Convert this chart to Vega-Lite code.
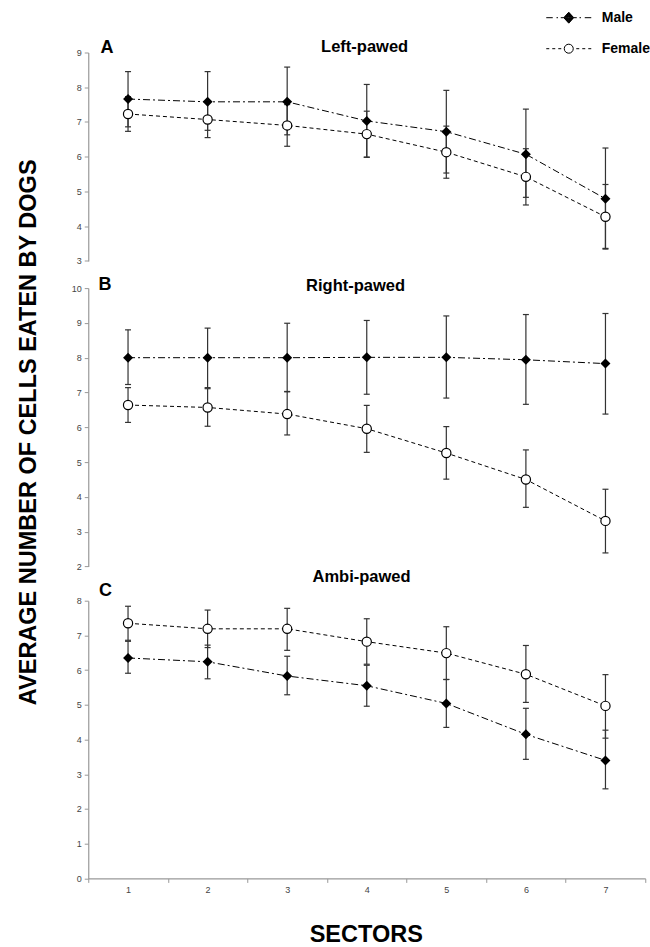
{
  "$schema": "https://vega.github.io/schema/vega-lite/v6.json",
  "padding": {"left": 16.25, "top": 4.5, "right": 0, "bottom": 10},
  "background": "white",
  "config": {
    "view": {"stroke": null},
    "font": "Liberation Sans",
    "axis": {
      "labelFont": "Liberation Sans", "labelFontSize": 9, "labelColor": "#444",
      "domainColor": "#999", "tickColor": "#999", "domainWidth": 1.2, "tickWidth": 1,
      "tickSize": 4, "labelPadding": 3, "grid": false,
      "titleFont": "Liberation Sans", "titleFontWeight": "bold", "titleColor": "black"
    }
  },
  "data": {"values": [
    {"panel": "A", "sex": "Male", "sector": 1, "mean": 7.66, "lo": 6.86, "hi": 8.45},
    {"panel": "A", "sex": "Male", "sector": 2, "mean": 7.58, "lo": 6.76, "hi": 8.45},
    {"panel": "A", "sex": "Male", "sector": 3, "mean": 7.58, "lo": 6.63, "hi": 8.58},
    {"panel": "A", "sex": "Male", "sector": 4, "mean": 7.03, "lo": 5.98, "hi": 8.08},
    {"panel": "A", "sex": "Male", "sector": 5, "mean": 6.72, "lo": 5.53, "hi": 7.91},
    {"panel": "A", "sex": "Male", "sector": 6, "mean": 6.07, "lo": 4.83, "hi": 7.37},
    {"panel": "A", "sex": "Male", "sector": 7, "mean": 4.79, "lo": 3.36, "hi": 6.25},
    {"panel": "A", "sex": "Female", "sector": 1, "mean": 7.23, "lo": 6.73, "hi": 7.73},
    {"panel": "A", "sex": "Female", "sector": 2, "mean": 7.07, "lo": 6.55, "hi": 7.59},
    {"panel": "A", "sex": "Female", "sector": 3, "mean": 6.90, "lo": 6.30, "hi": 7.50},
    {"panel": "A", "sex": "Female", "sector": 4, "mean": 6.65, "lo": 5.99, "hi": 7.31},
    {"panel": "A", "sex": "Female", "sector": 5, "mean": 6.13, "lo": 5.38, "hi": 6.88},
    {"panel": "A", "sex": "Female", "sector": 6, "mean": 5.42, "lo": 4.61, "hi": 6.23},
    {"panel": "A", "sex": "Female", "sector": 7, "mean": 4.27, "lo": 3.34, "hi": 5.20},
    {"panel": "B", "sex": "Male", "sector": 1, "mean": 8.00, "lo": 7.23, "hi": 8.80},
    {"panel": "B", "sex": "Male", "sector": 2, "mean": 8.00, "lo": 7.14, "hi": 8.85},
    {"panel": "B", "sex": "Male", "sector": 3, "mean": 8.00, "lo": 7.03, "hi": 8.99},
    {"panel": "B", "sex": "Male", "sector": 4, "mean": 8.01, "lo": 6.95, "hi": 9.07},
    {"panel": "B", "sex": "Male", "sector": 5, "mean": 8.01, "lo": 6.84, "hi": 9.20},
    {"panel": "B", "sex": "Male", "sector": 6, "mean": 7.94, "lo": 6.66, "hi": 9.24},
    {"panel": "B", "sex": "Male", "sector": 7, "mean": 7.83, "lo": 6.38, "hi": 9.27},
    {"panel": "B", "sex": "Female", "sector": 1, "mean": 6.64, "lo": 6.14, "hi": 7.14},
    {"panel": "B", "sex": "Female", "sector": 2, "mean": 6.57, "lo": 6.03, "hi": 7.11},
    {"panel": "B", "sex": "Female", "sector": 3, "mean": 6.38, "lo": 5.78, "hi": 7.02},
    {"panel": "B", "sex": "Female", "sector": 4, "mean": 5.96, "lo": 5.28, "hi": 6.63},
    {"panel": "B", "sex": "Female", "sector": 5, "mean": 5.26, "lo": 4.51, "hi": 6.02},
    {"panel": "B", "sex": "Female", "sector": 6, "mean": 4.50, "lo": 3.70, "hi": 5.35},
    {"panel": "B", "sex": "Female", "sector": 7, "mean": 3.31, "lo": 2.39, "hi": 4.22},
    {"panel": "C", "sex": "Male", "sector": 1, "mean": 6.35, "lo": 5.91, "hi": 6.83},
    {"panel": "C", "sex": "Male", "sector": 2, "mean": 6.24, "lo": 5.75, "hi": 6.72},
    {"panel": "C", "sex": "Male", "sector": 3, "mean": 5.83, "lo": 5.29, "hi": 6.40},
    {"panel": "C", "sex": "Male", "sector": 4, "mean": 5.55, "lo": 4.96, "hi": 6.14},
    {"panel": "C", "sex": "Male", "sector": 5, "mean": 5.04, "lo": 4.35, "hi": 5.73},
    {"panel": "C", "sex": "Male", "sector": 6, "mean": 4.15, "lo": 3.43, "hi": 4.90},
    {"panel": "C", "sex": "Male", "sector": 7, "mean": 3.40, "lo": 2.58, "hi": 4.27},
    {"panel": "C", "sex": "Female", "sector": 1, "mean": 7.35, "lo": 6.86, "hi": 7.84},
    {"panel": "C", "sex": "Female", "sector": 2, "mean": 7.19, "lo": 6.65, "hi": 7.73},
    {"panel": "C", "sex": "Female", "sector": 3, "mean": 7.19, "lo": 6.57, "hi": 7.78},
    {"panel": "C", "sex": "Female", "sector": 4, "mean": 6.82, "lo": 6.17, "hi": 7.48},
    {"panel": "C", "sex": "Female", "sector": 5, "mean": 6.49, "lo": 5.73, "hi": 7.25},
    {"panel": "C", "sex": "Female", "sector": 6, "mean": 5.88, "lo": 5.07, "hi": 6.71},
    {"panel": "C", "sex": "Female", "sector": 7, "mean": 4.97, "lo": 4.04, "hi": 5.87}
  ]},
  "bounds": "flush",
  "spacing": 26.6,
  "vconcat": [
    {
      "width": 557, "height": 208.4,
      "transform": [{"filter": "datum.panel == 'A'"}],
      "resolve": {"axis": {"x": "independent", "y": "independent"}},
      "layer": [
        {
          "transform": [{"filter": "datum.sex == 'Male'"}],
          "mark": {"type": "line", "color": "black", "strokeWidth": 1, "strokeDash": [7, 3, 2, 3]},
          "encoding": {
            "x": {"field": "sector", "type": "ordinal", "bandPosition": 0.5, "scale": {"type": "band", "paddingInner": 0, "paddingOuter": 0},
                  "axis": {"orient": "top", "domain": false, "ticks": false, "labels": false, "title": "Left-pawed", "titleX": 275.9, "titleY": -0.6, "titleAlign": "center", "titleBaseline": "alphabetic", "titleAngle": 0, "titleFontSize": 16.5}},
            "y": {"field": "mean", "type": "quantitative", "scale": {"domain": [3, 9], "nice": false, "zero": false},
                  "axis": {"orient": "left", "values": [3, 4, 5, 6, 7, 8, 9], "title": "A", "titleAngle": 0, "titleX": 11.8, "titleY": 0, "titleAlign": "left", "titleBaseline": "alphabetic", "titleFontSize": 18}}
          }
        },
        {
          "transform": [{"filter": "datum.sex == 'Female'"}],
          "mark": {"type": "line", "color": "black", "strokeWidth": 1, "strokeDash": [4, 3]},
          "encoding": {
            "x": {"field": "sector", "type": "ordinal", "bandPosition": 0.5, "scale": {"type": "band", "paddingInner": 0, "paddingOuter": 0}, "axis": null},
            "y": {"field": "mean", "type": "quantitative", "scale": {"domain": [3, 9], "nice": false, "zero": false}, "axis": null}
          }
        },
        {
          "mark": {"type": "rule", "color": "#333", "strokeWidth": 1.2},
          "encoding": {
            "x": {"field": "sector", "type": "ordinal", "bandPosition": 0.5, "scale": {"type": "band", "paddingInner": 0, "paddingOuter": 0}, "axis": null},
            "y": {"field": "lo", "type": "quantitative", "scale": {"domain": [3, 9], "nice": false, "zero": false}, "axis": null},
            "y2": {"field": "hi"}
          }
        },
        {
          "mark": {"type": "tick", "orient": "horizontal", "size": 6, "thickness": 1.2, "color": "#333", "opacity": 1},
          "encoding": {
            "x": {"field": "sector", "type": "ordinal", "bandPosition": 0.5, "scale": {"type": "band", "paddingInner": 0, "paddingOuter": 0}, "axis": null},
            "y": {"field": "lo", "type": "quantitative", "scale": {"domain": [3, 9], "nice": false, "zero": false}, "axis": null}
          }
        },
        {
          "mark": {"type": "tick", "orient": "horizontal", "size": 6, "thickness": 1.2, "color": "#333", "opacity": 1},
          "encoding": {
            "x": {"field": "sector", "type": "ordinal", "bandPosition": 0.5, "scale": {"type": "band", "paddingInner": 0, "paddingOuter": 0}, "axis": null},
            "y": {"field": "hi", "type": "quantitative", "scale": {"domain": [3, 9], "nice": false, "zero": false}, "axis": null}
          }
        },
        {
          "transform": [{"filter": "datum.sex == 'Male'"}],
          "mark": {"type": "point", "shape": "diamond", "size": 100, "filled": true, "color": "black", "opacity": 1},
          "encoding": {
            "x": {"field": "sector", "type": "ordinal", "bandPosition": 0.5, "scale": {"type": "band", "paddingInner": 0, "paddingOuter": 0}, "axis": null},
            "y": {"field": "mean", "type": "quantitative", "scale": {"domain": [3, 9], "nice": false, "zero": false}, "axis": null}
          }
        },
        {
          "transform": [{"filter": "datum.sex == 'Female'"}],
          "mark": {"type": "point", "shape": "circle", "size": 85, "filled": false, "fill": "white", "stroke": "black", "strokeWidth": 1.2, "opacity": 1},
          "encoding": {
            "x": {"field": "sector", "type": "ordinal", "bandPosition": 0.5, "scale": {"type": "band", "paddingInner": 0, "paddingOuter": 0}, "axis": null},
            "y": {"field": "mean", "type": "quantitative", "scale": {"domain": [3, 9], "nice": false, "zero": false}, "axis": null}
          }
        },
        {
          "transform": [{"filter": "datum.sex == 'none'"}],
          "mark": {"type": "point", "size": 625, "filled": false, "stroke": "black", "strokeWidth": 1, "opacity": 1},
          "encoding": {
            "shape": {"field": "sex", "type": "nominal",
              "scale": {"domain": ["Male", "Female"], "range": [
                "M-1.8,0L-1.28,0M-0.98,0L-0.86,0M-0.64,0L-0.4,0M0.4,0L0.64,0M0.86,0L0.98,0M1.28,0L1.8,0M0,-0.44L0.4,0L0,0.44L-0.4,0ZM0,-0.4L0.36,0L0,0.4L-0.36,0ZM0,-0.36L0.33,0L0,0.36L-0.33,0ZM0,-0.32L0.29,0L0,0.32L-0.29,0ZM0,-0.28L0.25,0L0,0.28L-0.25,0ZM0,-0.24L0.22,0L0,0.24L-0.22,0ZM0,-0.2L0.18,0L0,0.2L-0.18,0ZM0,-0.16L0.14,0L0,0.16L-0.14,0ZM0,-0.12L0.1,0L0,0.12L-0.1,0ZM0,-0.08L0.07,0L0,0.08L-0.07,0ZM-0.05,0L0.05,0",
                "M-1.8,0L-1.56,0M-1.32,0L-1.08,0M-0.84,0L-0.6,0M0.6,0L0.84,0M1.08,0L1.32,0M1.56,0L1.8,0M0.36,0A0.36,0.36,0,1,1,-0.36,0A0.36,0.36,0,1,1,0.36,0Z"
              ]},
              "legend": {"orient": "none", "legendX": 467.5, "legendY": -47.8, "title": null, "symbolSize": 625, "symbolStrokeWidth": 1, "symbolOpacity": 1, "labelFont": "Liberation Sans", "labelFontSize": 14, "labelFontWeight": "bold", "labelColor": "black", "labelOffset": 20, "rowPadding": 10, "padding": 0}}
          }
        }
      ]
    },
    {
      "width": 557, "height": 285.1,
      "transform": [{"filter": "datum.panel == 'B'"}],
      "resolve": {"axis": {"x": "independent", "y": "independent"}},
      "layer": [
        {
          "transform": [{"filter": "datum.sex == 'Male'"}],
          "mark": {"type": "line", "color": "black", "strokeWidth": 1, "strokeDash": [7, 3, 2, 3]},
          "encoding": {
            "x": {"field": "sector", "type": "ordinal", "bandPosition": 0.5, "scale": {"type": "band", "paddingInner": 0, "paddingOuter": 0},
                  "axis": {"orient": "top", "domain": false, "ticks": false, "labels": false, "title": "Right-pawed", "titleX": 266.8, "titleY": 2.8, "titleAlign": "center", "titleBaseline": "alphabetic", "titleAngle": 0, "titleFontSize": 16.5}},
            "y": {"field": "mean", "type": "quantitative", "scale": {"domain": [2, 10], "nice": false, "zero": false, "range": [278.4, 0]},
                  "axis": {"orient": "left", "values": [2, 3, 4, 5, 6, 7, 8, 9, 10], "title": "B", "titleAngle": 0, "titleX": 9.8, "titleY": 1, "titleAlign": "left", "titleBaseline": "alphabetic", "titleFontSize": 18}}
          }
        },
        {
          "transform": [{"filter": "datum.sex == 'Female'"}],
          "mark": {"type": "line", "color": "black", "strokeWidth": 1, "strokeDash": [4, 3]},
          "encoding": {
            "x": {"field": "sector", "type": "ordinal", "bandPosition": 0.5, "scale": {"type": "band", "paddingInner": 0, "paddingOuter": 0}, "axis": null},
            "y": {"field": "mean", "type": "quantitative", "scale": {"domain": [2, 10], "nice": false, "zero": false, "range": [278.4, 0]},
                  "axis": {"orient": "right", "domain": false, "ticks": false, "labels": false, "title": "AVERAGE NUMBER OF CELLS EATEN BY DOGS", "titleAngle": 270, "titleX": -616.5, "titleY": 143.7, "titleAlign": "center", "titleBaseline": "middle", "titleFontSize": 23.5}}
          }
        },
        {
          "mark": {"type": "rule", "color": "#333", "strokeWidth": 1.2},
          "encoding": {
            "x": {"field": "sector", "type": "ordinal", "bandPosition": 0.5, "scale": {"type": "band", "paddingInner": 0, "paddingOuter": 0}, "axis": null},
            "y": {"field": "lo", "type": "quantitative", "scale": {"domain": [2, 10], "nice": false, "zero": false, "range": [278.4, 0]}, "axis": null},
            "y2": {"field": "hi"}
          }
        },
        {
          "mark": {"type": "tick", "orient": "horizontal", "size": 6, "thickness": 1.2, "color": "#333", "opacity": 1},
          "encoding": {
            "x": {"field": "sector", "type": "ordinal", "bandPosition": 0.5, "scale": {"type": "band", "paddingInner": 0, "paddingOuter": 0}, "axis": null},
            "y": {"field": "lo", "type": "quantitative", "scale": {"domain": [2, 10], "nice": false, "zero": false, "range": [278.4, 0]}, "axis": null}
          }
        },
        {
          "mark": {"type": "tick", "orient": "horizontal", "size": 6, "thickness": 1.2, "color": "#333", "opacity": 1},
          "encoding": {
            "x": {"field": "sector", "type": "ordinal", "bandPosition": 0.5, "scale": {"type": "band", "paddingInner": 0, "paddingOuter": 0}, "axis": null},
            "y": {"field": "hi", "type": "quantitative", "scale": {"domain": [2, 10], "nice": false, "zero": false, "range": [278.4, 0]}, "axis": null}
          }
        },
        {
          "transform": [{"filter": "datum.sex == 'Male'"}],
          "mark": {"type": "point", "shape": "diamond", "size": 100, "filled": true, "color": "black", "opacity": 1},
          "encoding": {
            "x": {"field": "sector", "type": "ordinal", "bandPosition": 0.5, "scale": {"type": "band", "paddingInner": 0, "paddingOuter": 0}, "axis": null},
            "y": {"field": "mean", "type": "quantitative", "scale": {"domain": [2, 10], "nice": false, "zero": false, "range": [278.4, 0]}, "axis": null}
          }
        },
        {
          "transform": [{"filter": "datum.sex == 'Female'"}],
          "mark": {"type": "point", "shape": "circle", "size": 85, "filled": false, "fill": "white", "stroke": "black", "strokeWidth": 1.2, "opacity": 1},
          "encoding": {
            "x": {"field": "sector", "type": "ordinal", "bandPosition": 0.5, "scale": {"type": "band", "paddingInner": 0, "paddingOuter": 0}, "axis": null},
            "y": {"field": "mean", "type": "quantitative", "scale": {"domain": [2, 10], "nice": false, "zero": false, "range": [278.4, 0]}, "axis": null}
          }
        }
      ]
    },
    {
      "width": 557, "height": 277.7,
      "transform": [{"filter": "datum.panel == 'C'"}],
      "resolve": {"axis": {"x": "independent", "y": "independent"}},
      "layer": [
        {
          "transform": [{"filter": "datum.sex == 'Male'"}],
          "mark": {"type": "line", "color": "black", "strokeWidth": 1, "strokeDash": [7, 3, 2, 3]},
          "encoding": {
            "x": {"field": "sector", "type": "ordinal", "bandPosition": 0.5, "scale": {"type": "band", "paddingInner": 0, "paddingOuter": 0},
                  "axis": {"orient": "bottom", "tickBand": "extent", "labelAngle": 0, "title": "SECTORS", "titleX": 277.5, "titleY": 63.5, "titleAlign": "center", "titleBaseline": "alphabetic", "titleAngle": 0, "titleFontSize": 23.5}},
            "y": {"field": "mean", "type": "quantitative", "scale": {"domain": [0, 8], "nice": false, "zero": false},
                  "axis": {"orient": "left", "values": [0, 1, 2, 3, 4, 5, 6, 7, 8], "title": "C", "titleAngle": 0, "titleX": 10.2, "titleY": -5.3, "titleAlign": "left", "titleBaseline": "alphabetic", "titleFontSize": 18}}
          }
        },
        {
          "transform": [{"filter": "datum.sex == 'Female'"}],
          "mark": {"type": "line", "color": "black", "strokeWidth": 1, "strokeDash": [4, 3]},
          "encoding": {
            "x": {"field": "sector", "type": "ordinal", "bandPosition": 0.5, "scale": {"type": "band", "paddingInner": 0, "paddingOuter": 0},
                  "axis": {"orient": "top", "domain": false, "ticks": false, "labels": false, "title": "Ambi-pawed", "titleX": 272.8, "titleY": -19.5, "titleAlign": "center", "titleBaseline": "alphabetic", "titleAngle": 0, "titleFontSize": 16.5}},
            "y": {"field": "mean", "type": "quantitative", "scale": {"domain": [0, 8], "nice": false, "zero": false}, "axis": null}
          }
        },
        {
          "mark": {"type": "rule", "color": "#333", "strokeWidth": 1.2},
          "encoding": {
            "x": {"field": "sector", "type": "ordinal", "bandPosition": 0.5, "scale": {"type": "band", "paddingInner": 0, "paddingOuter": 0}, "axis": null},
            "y": {"field": "lo", "type": "quantitative", "scale": {"domain": [0, 8], "nice": false, "zero": false}, "axis": null},
            "y2": {"field": "hi"}
          }
        },
        {
          "mark": {"type": "tick", "orient": "horizontal", "size": 6, "thickness": 1.2, "color": "#333", "opacity": 1},
          "encoding": {
            "x": {"field": "sector", "type": "ordinal", "bandPosition": 0.5, "scale": {"type": "band", "paddingInner": 0, "paddingOuter": 0}, "axis": null},
            "y": {"field": "lo", "type": "quantitative", "scale": {"domain": [0, 8], "nice": false, "zero": false}, "axis": null}
          }
        },
        {
          "mark": {"type": "tick", "orient": "horizontal", "size": 6, "thickness": 1.2, "color": "#333", "opacity": 1},
          "encoding": {
            "x": {"field": "sector", "type": "ordinal", "bandPosition": 0.5, "scale": {"type": "band", "paddingInner": 0, "paddingOuter": 0}, "axis": null},
            "y": {"field": "hi", "type": "quantitative", "scale": {"domain": [0, 8], "nice": false, "zero": false}, "axis": null}
          }
        },
        {
          "transform": [{"filter": "datum.sex == 'Male'"}],
          "mark": {"type": "point", "shape": "diamond", "size": 100, "filled": true, "color": "black", "opacity": 1},
          "encoding": {
            "x": {"field": "sector", "type": "ordinal", "bandPosition": 0.5, "scale": {"type": "band", "paddingInner": 0, "paddingOuter": 0}, "axis": null},
            "y": {"field": "mean", "type": "quantitative", "scale": {"domain": [0, 8], "nice": false, "zero": false}, "axis": null}
          }
        },
        {
          "transform": [{"filter": "datum.sex == 'Female'"}],
          "mark": {"type": "point", "shape": "circle", "size": 85, "filled": false, "fill": "white", "stroke": "black", "strokeWidth": 1.2, "opacity": 1},
          "encoding": {
            "x": {"field": "sector", "type": "ordinal", "bandPosition": 0.5, "scale": {"type": "band", "paddingInner": 0, "paddingOuter": 0}, "axis": null},
            "y": {"field": "mean", "type": "quantitative", "scale": {"domain": [0, 8], "nice": false, "zero": false}, "axis": null}
          }
        }
      ]
    }
  ]
}
